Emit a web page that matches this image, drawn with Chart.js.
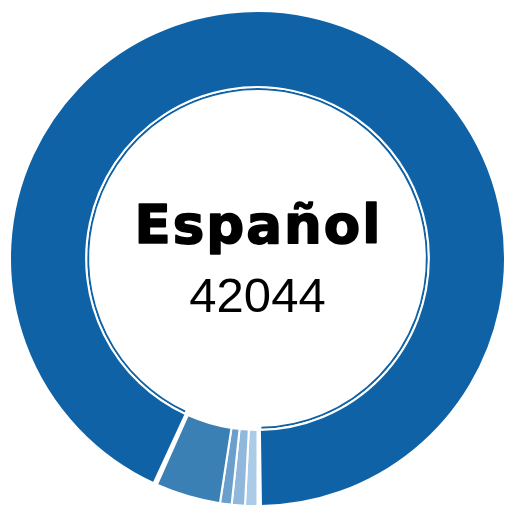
<!DOCTYPE html>
<html>
<head>
<meta charset="utf-8">
<script src="https://cdn.jsdelivr.net/npm/chart.js@4.4.0/dist/chart.umd.min.js"></script>
<style>
    html, body { margin: 0; padding: 0; background: #fff; overflow: hidden; }
    #graficoIdiomas { display: block; }
</style>
</head>
<body>
<canvas id="graficoIdiomas" width="510" height="510"></canvas>
<script>
// Usuarios por idioma (el primero arranca abajo y gira en sentido horario)
const idiomas = ['Idioma E', 'Idioma D', 'Idioma C', 'Idioma B', 'Español'];
const usuarios = [363, 388, 338, 1915, 42044];
const colores = ['#abcbe6', '#8fb8dc', '#6a9fcd', '#3b80b5', '#0f62a6'];
const seleccionado = 4;

// Anillo fino interior: solo se pinta el idioma seleccionado
const coloresResalte = colores.map((c, i) => i === seleccionado ? c : 'rgba(0,0,0,0)');

// Nombre y total del idioma seleccionado en el centro
const textoCentro = {
    id: 'textoCentro',
    afterDraw(chart) {
        const ctx = chart.ctx;
        const arco = chart.getDatasetMeta(0).data[0];
        const x = arco.x;
        const y = arco.y;
        const nombre = idiomas[seleccionado];
        const espacio = 2;

        ctx.save();
        ctx.fillStyle = '#000';
        ctx.strokeStyle = '#000';
        ctx.lineJoin = 'round';
        ctx.lineWidth = 1.6;
        ctx.textAlign = 'left';
        ctx.textBaseline = 'alphabetic';
        ctx.font = 'bold 53px "DejaVu Sans", Verdana, sans-serif';
        const conEspacio = 'letterSpacing' in ctx;
        if (conEspacio) ctx.letterSpacing = espacio + 'px';
        const w = ctx.measureText(nombre).width - (conEspacio ? espacio : 0);
        ctx.fillText(nombre, x - w / 2, y - 16);
        ctx.strokeText(nombre, x - w / 2, y - 16);
        ctx.restore();

        ctx.save();
        ctx.fillStyle = '#000';
        ctx.textAlign = 'center';
        ctx.textBaseline = 'alphabetic';
        ctx.font = '49px "Liberation Sans", Arial, sans-serif';
        ctx.fillText(String(usuarios[seleccionado]), x, y + 53);
        ctx.restore();
    }
};

const ctx = document.getElementById('graficoIdiomas').getContext('2d');
const grafico = new Chart(ctx, {
    type: 'doughnut',
    data: {
        labels: idiomas,
        datasets: [{
            data: usuarios,
            backgroundColor: colores,
            borderColor: '#fff',
            borderWidth: 2,
            spacing: 2,
            weight: 19
        }, {
            data: usuarios,
            backgroundColor: coloresResalte,
            borderColor: '#fff',
            borderWidth: 2,
            spacing: 2,
            weight: 1
        }]
    },
    options: {
        responsive: false,
        animation: false,
        rotation: 180,
        cutout: '67.5%',
        layout: {
            padding: { left: 9, top: 10, right: 4, bottom: 3 }
        },
        plugins: {
            legend: { display: false },
            tooltip: { enabled: false }
        }
    },
    plugins: [textoCentro]
});
</script>
</body>
</html>
